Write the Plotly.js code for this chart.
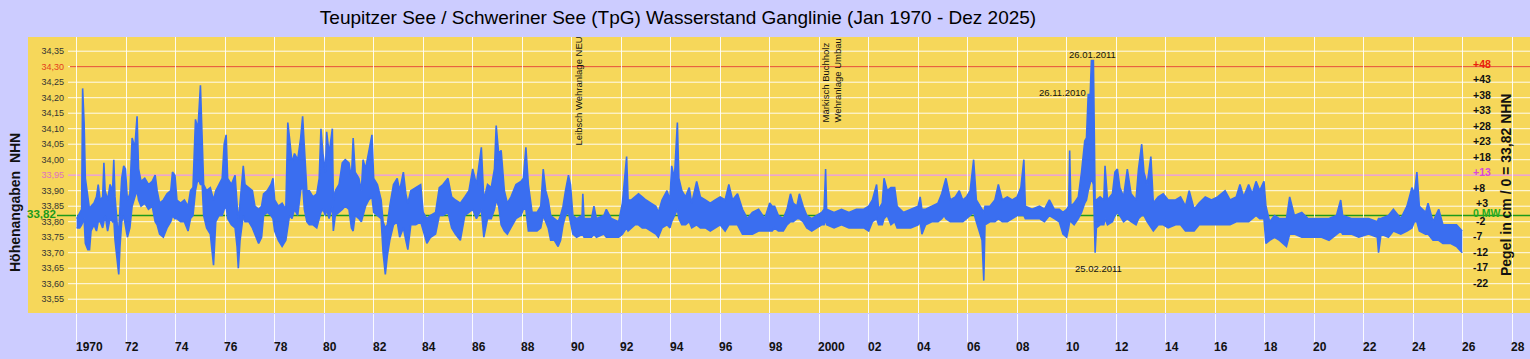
<!DOCTYPE html>
<html><head><meta charset="utf-8">
<script src="https://cdn.plot.ly/plotly-3.0.1.min.js"></script>
<style>html,body{margin:0;padding:0;background:#ccccff;}#chart{width:1530px;height:359px;}</style>
</head><body><div id="chart"></div>
<script>
// Water level envelope: [decimal year, high cm, low cm] relative to MW 33,82 NHN
const levels1970s = [
[1970.00,-1,-4],[1970.12,1,-4],[1970.20,2,-3],[1970.24,41,-2],[1970.30,30,-1],[1970.35,12,-9],[1970.45,5,-11],[1970.52,2,-11],[1970.58,3,-5],[1970.70,4,-3],[1970.80,6,-5],[1970.87,10,-2],[1970.95,5,-2],
[1971.05,6,-4],[1971.10,17,-2],[1971.15,8,0],[1971.25,5,-5],[1971.35,10,-1],[1971.45,8,-2],[1971.50,18,-1],[1971.55,6,-8],[1971.65,-4,-16],[1971.70,-5,-19],[1971.75,3,-10],[1971.82,12,-2],[1971.90,16,0],[1971.97,15,-3],
[1972.05,5,-7],[1972.15,7,-4],[1972.24,25,3],[1972.35,22,6],[1972.44,32,8],[1972.50,15,5],[1972.60,11,3],[1972.75,12,4],[1972.90,10,2],
[1973.05,11,3],[1973.17,13,-2],[1973.25,8,-3],[1973.35,4,-6],[1973.50,5,-7],[1973.65,7,-4],[1973.80,8,-2],[1973.87,14,0],[1973.97,13,-1],
[1974.05,5,-1],[1974.20,4,-2],[1974.35,5,-2],[1974.50,3,-5],[1974.60,8,-1],[1974.70,9,0],[1974.80,31,8],[1974.90,28,12],
[1975.00,42,10],[1975.07,25,10],[1975.13,10,0],[1975.25,8,-4],[1975.40,9,-6],[1975.53,5,-16],[1975.62,8,-2],[1975.75,10,0],[1975.88,12,0],[1975.96,23,2],
[1976.04,26,3],[1976.10,12,-1],[1976.25,10,-3],[1976.40,13,-4],[1976.48,2,-10],[1976.53,-2,-17],[1976.60,4,-8],[1976.73,16,0],[1976.80,10,-2],[1976.95,9,-2],
[1977.10,8,-4],[1977.20,3,-6],[1977.35,2,-9],[1977.47,3,-7],[1977.55,7,0],[1977.70,8,1],[1977.85,10,0],[1977.93,12,-1],
[1978.00,5,-5],[1978.15,3,-8],[1978.30,4,-10],[1978.45,2,-8],[1978.53,30,-3],[1978.60,25,0],[1978.70,17,-1],[1978.80,20,2],[1978.93,18,0],
[1979.05,25,8],[1979.13,32,10],[1979.20,22,2],[1979.30,8,-2],[1979.40,8,-3],[1979.55,6,-3],[1979.70,7,-4],[1979.80,12,-1],[1979.87,28,1],[1979.95,20,2]
];
const levels1980s = [
[1980.05,14,0],[1980.10,27,2],[1980.20,20,-1],[1980.33,28,3],[1980.37,5,-5],[1980.45,8,0],[1980.60,10,1],[1980.73,17,2],[1980.85,18,3],
[1981.00,17,2],[1981.10,12,-4],[1981.17,25,-5],[1981.25,14,0],[1981.40,12,-1],[1981.50,8,-2],[1981.57,18,0],[1981.67,15,3],[1981.80,20,5],[1981.93,26,6],
[1982.00,12,1],[1982.15,10,0],[1982.30,5,-1],[1982.38,-2,-12],[1982.47,-4,-19],[1982.55,-3,-13],[1982.65,3,-8],[1982.80,10,-3],[1982.95,12,-2],
[1983.05,8,-7],[1983.20,14,-4],[1983.30,7,-8],[1983.38,4,-11],[1983.50,8,-3],[1983.70,9,-3],[1983.90,10,-2],
[1984.00,1,-5],[1984.15,-1,-9],[1984.30,0,-7],[1984.50,1,-6],[1984.65,9,0],[1984.80,10,0],
[1985.00,12,1],[1985.15,6,-4],[1985.30,5,-6],[1985.50,4,-8],[1985.68,6,0],[1985.85,8,1],
[1986.00,15,2],[1986.15,10,-1],[1986.35,22,2],[1986.45,5,-7],[1986.60,10,-1],[1986.75,9,-1],[1986.88,15,2],[1986.95,29,5],
[1987.05,20,3],[1987.15,21,-3],[1987.28,8,-5],[1987.40,4,-6],[1987.55,6,-4],[1987.75,10,-1],[1987.95,11,0],
[1988.05,12,2],[1988.15,22,2],[1988.25,10,-5],[1988.40,1,-5],[1988.60,1,-5],[1988.75,3,-4],[1988.85,15,0],[1988.95,8,-2],
[1989.05,5,-4],[1989.15,0,-8],[1989.30,-1,-8],[1989.45,-2,-10],[1989.55,0,-8],[1989.65,3,-3],[1989.75,8,0],[1989.87,13,1],[1989.95,10,-2]
];
const levels1990s = [
[1990.05,0,-6],[1990.20,-1,-7],[1990.42,0,-6],[1990.45,7,-6],[1990.50,-1,-7],[1990.80,-1,-7],[1990.90,3,-6],
[1991.00,-1,-7],[1991.30,0,-6],[1991.40,2,-7],[1991.60,-1,-7],[1991.90,-2,-7],
[1992.05,4,-6],[1992.22,19,-4],[1992.28,5,-5],[1992.40,5,-4],[1992.55,6,-3],[1992.70,7,-3],[1992.85,6,-4],
[1993.00,5,-4],[1993.20,4,-5],[1993.40,3,-6],[1993.50,1,-7],[1993.65,5,-4],[1993.85,8,-3],[1993.97,5,-4],
[1994.04,16,-2],[1994.15,12,0],[1994.27,30,2],[1994.33,12,-1],[1994.45,8,-3],[1994.60,6,-3],[1994.75,9,-2],[1994.85,4,-4],
[1995.05,11,-3],[1995.20,6,-4],[1995.40,5,-4],[1995.60,4,-5],[1995.80,5,-4],
[1996.00,6,-3],[1996.20,5,-5],[1996.35,10,-3],[1996.50,5,-3],[1996.70,7,-3],[1996.90,2,-6],
[1997.10,-1,-6],[1997.30,1,-6],[1997.55,2,-5],[1997.80,-1,-5],
[1998.00,4,-5],[1998.10,3,-5],[1998.20,3,-4],[1998.35,0,-5],[1998.55,-1,-5],[1998.70,2,-3],[1998.84,7,-2],[1998.95,4,-2],
[1999.10,3,-1],[1999.20,7,-1],[1999.35,3,-2],[1999.50,0,-4],[1999.70,-1,-5],[1999.90,0,-4]
];
const levels2000s = [
[2000.10,1,-3],[2000.20,2,-3],[2000.26,15,-1],[2000.30,2,-3],[2000.60,1,-4],[2000.90,2,-3],
[2001.20,1,-4],[2001.50,2,-4],[2001.80,2,-4],
[2002.00,3,-5],[2002.15,5,-2],[2002.32,10,-1],[2002.40,2,-3],[2002.55,4,-3],[2002.62,12,-1],[2002.75,8,0],[2002.90,9,-3],
[2003.05,9,-2],[2003.15,3,-4],[2003.40,1,-4],[2003.70,2,-4],
[2004.00,3,-3],[2004.08,6,-2],[2004.15,2,-6],[2004.30,2,-3],[2004.55,3,-2],[2004.80,4,-2],[2004.95,7,-1],
[2005.05,10,0],[2005.12,12,-1],[2005.30,5,-2],[2005.50,6,-2],[2005.66,8,-2],[2005.80,5,-2],[2005.95,6,-1],
[2006.10,8,0],[2006.24,18,1],[2006.35,5,-2],[2006.58,2,-8],[2006.65,1,-21],[2006.70,3,-3],[2006.90,3,-2],
[2007.10,5,-2],[2007.24,10,-1],[2007.40,5,-2],[2007.60,6,-2],[2007.80,5,-1],
[2008.00,6,0],[2008.15,9,0],[2008.27,18,0],[2008.33,3,-1],[2008.60,2,-1],[2008.90,3,-1],
[2009.10,2,-2],[2009.30,5,0],[2009.50,2,-1],[2009.70,2,-2],[2009.85,1,-6]
];
const levels2010s = [
[2010.00,2,-7],[2010.08,3,-4],[2010.12,21,-2],[2010.17,3,-2],[2010.30,4,-3],[2010.47,6,-1],[2010.60,14,1],[2010.73,24,4],[2010.80,25,5],[2010.87,39,8],[2010.95,39,10],
[2011.00,50,12],[2011.08,50,10],[2011.11,35,0],[2011.15,4,-12],[2011.20,5,-4],[2011.35,6,-3],[2011.50,5,-3],[2011.55,16,-1],[2011.65,5,-3],[2011.85,7,-2],[2011.95,14,0],
[2012.05,15,1],[2012.15,9,0],[2012.30,6,-2],[2012.45,15,-1],[2012.60,7,-2],[2012.80,5,-3],[2012.90,15,-1],
[2013.03,23,0],[2013.12,14,0],[2013.25,10,-2],[2013.40,19,-4],[2013.50,4,-5],[2013.70,6,-3],[2013.90,7,-3],
[2014.10,5,-4],[2014.40,5,-3],[2014.60,6,-3],[2014.80,3,-5],[2014.95,8,-5],
[2015.15,2,-5],[2015.35,4,-3],[2015.60,6,-3],[2015.85,5,-3],
[2016.10,6,-3],[2016.40,8,-3],[2016.60,5,-3],[2016.85,6,-2],
[2017.00,10,-2],[2017.15,6,-2],[2017.35,10,-2],[2017.50,7,-1],[2017.65,11,0],[2017.80,8,-1],[2017.97,11,-1],
[2018.05,3,-9],[2018.20,-2,-8],[2018.40,0,-7],[2018.60,-1,-8],[2018.88,-1,-10],[2019.01,6,-6],
[2019.20,0,-6],[2019.50,1,-7],[2019.75,-1,-7]
];
const levels2020s = [
[2020.00,-1,-7],[2020.30,-1,-7],[2020.60,-1,-8],[2020.90,0,-6],[2021.07,5,-5],[2021.15,0,-6],[2021.50,-1,-6],[2021.80,-1,-7],
[2022.20,-1,-6],[2022.55,-2,-7],[2022.60,-1,-12],[2022.70,-1,-6],
[2023.00,0,-7],[2023.20,2,-5],[2023.50,-1,-6],[2023.75,3,-5],[2023.95,9,-4],
[2024.05,7,-2],[2024.15,14,-2],[2024.25,3,-5],[2024.50,1,-6],[2024.60,4,-6],[2024.80,-2,-8],
[2025.03,2,-8],[2025.20,-3,-9],[2025.50,-3,-9],[2025.75,-3,-10],[2025.98,-5,-12]
];

const meanWater = 33.82;
const yTickVals = [33.55,33.60,33.65,33.70,33.75,33.80,33.85,33.90,33.95,34.00,34.05,34.10,34.15,34.20,34.25,34.30,34.35];
const yTickText = ['33,55','33,60','33,65','33,70','33,75','33,80','33,85','33,90','33,95','34,00','34,05','34,10','34,15','34,20','34,25','34,30','34,35'];
const pegelValues = [34.30,34.25,34.20,34.15,34.10,34.05,34.00,33.95,33.90,33.85,33.82,33.80,33.75,33.70,33.65,33.60];
const pegelText = ['+48','+43','+38','+33','+28','+23','+18','+13','+8','+3','0 MW','-2','-7','-12','-17','-22'];
const xLabelYears = [1970,1972,1974,1976,1978,1980,1982,1984,1986,1988,1990,1992,1994,1996,1998,2000,2002,2004,2006,2008,2010,2012,2014,2016,2018,2020,2022,2024,2026,2028];
const xLabelText = ['1970','72','74','76','78','80','82','84','86','88','90','92','94','96','98','2000','02','04','06','08','10','12','14','16','18','20','22','24','26','28'];

const FONT = '"Liberation Sans", Arial, sans-serif';
const BLUE = '#3a6ef0', YELLOW = '#f6d75a', RED = '#e4401a', PINK = '#e88ccc', GREEN = '#1c9a1c', GRID = 'rgba(255,255,255,0.9)';
const L = 68, R = 1530, T = 37, B = 313;
const px2x = p => (p - L) / (R - L);
const py2y = p => (B - p) / (B - T);
function decToMs(d){ const y = Math.floor(d); const a = Date.UTC(y,0,1), b = Date.UTC(y+1,0,1); return a + (d - y) * (b - a); }

const all = [].concat(levels1970s, levels1980s, levels1990s, levels2000s, levels2010s, levels2020s);
const xs = all.map(r => decToMs(r[0]));
const hiY = all.map(r => meanWater + r[1] / 100);
const loY = all.map(r => meanWater + r[2] / 100);

const traces = [
  {x: xs, y: loY, type: 'scatter', mode: 'lines', line: {color: BLUE, width: 1.6}, hoverinfo: 'skip', showlegend: false},
  {x: xs, y: hiY, type: 'scatter', mode: 'lines', fill: 'tonexty', fillcolor: BLUE, line: {color: BLUE, width: 1.6}, hoverinfo: 'skip', showlegend: false}
];

const labelColor = {'34,30': '#e4401a', '33,95': '#e070c0'};
const tickText = yTickText.map(t => labelColor[t] ? '<span style="color:' + labelColor[t] + '">' + t + '</span>' : t);

const ann = [];
xLabelYears.forEach((yr, i) => ann.push({x: decToMs(yr), xref: 'x', y: py2y(347), yref: 'paper', xanchor: 'left', yanchor: 'middle', xshift: -3,
  text: '<b>' + xLabelText[i] + '</b>', showarrow: false, font: {family: FONT, size: 12, color: '#111'}}));
pegelValues.forEach((v, i) => {
  const t = pegelText[i];
  const col = t === '+48' ? '#e8200c' : t === '+13' ? '#d848d8' : t === '0 MW' ? '#22aa22' : '#111';
  const xp = (t === '+3' || t === '-2') ? 1474 : 1471;
  ann.push({x: px2x(xp), xref: 'paper', y: v, yref: 'y', xanchor: 'left', yanchor: 'middle', yshift: v >= meanWater ? 3 : 1,
    text: '<b>' + t + '</b>', showarrow: false, font: {family: FONT, size: 10.5, color: col}});
});
ann.push({x: px2x(58), xref: 'paper', y: py2y(214), yref: 'paper', xanchor: 'right', yanchor: 'middle', text: '<b>33,82</b>', showarrow: false, font: {family: FONT, size: 11.5, color: GREEN}});
ann.push({x: px2x(15), xref: 'paper', y: py2y(203), yref: 'paper', xanchor: 'center', yanchor: 'middle', textangle: -90, text: '<b>Höhenangaben\u00a0 NHN</b>', showarrow: false, font: {family: FONT, size: 14, color: '#111'}});
ann.push({x: px2x(1506), xref: 'paper', y: py2y(185), yref: 'paper', xanchor: 'center', yanchor: 'middle', textangle: -90, text: '<b>Pegel in cm / 0 = 33,82 NHN</b>', showarrow: false, font: {family: FONT, size: 14, color: '#111'}});
ann.push({x: px2x(578), xref: 'paper', y: py2y(91.5), yref: 'paper', xanchor: 'center', yanchor: 'middle', textangle: -90, text: 'Leibsch Wehranlage NEU', showarrow: false, font: {family: FONT, size: 9.5, color: '#111'}});
ann.push({x: px2x(830.5), xref: 'paper', y: py2y(81), yref: 'paper', xanchor: 'center', yanchor: 'middle', textangle: -90, align: 'left', text: 'Märkisch Buchholz<br>Wehranlage Umbau', showarrow: false, font: {family: FONT, size: 9.5, color: '#111'}});
ann.push({x: px2x(1092), xref: 'paper', y: py2y(54), yref: 'paper', xanchor: 'center', yanchor: 'middle', text: '26.01.2011', showarrow: false, font: {family: FONT, size: 9.5, color: '#111'}});
ann.push({x: px2x(1062), xref: 'paper', y: py2y(92), yref: 'paper', xanchor: 'center', yanchor: 'middle', text: '26.11.2010', showarrow: false, font: {family: FONT, size: 9.5, color: '#111'}});
ann.push({x: px2x(1098), xref: 'paper', y: py2y(268), yref: 'paper', xanchor: 'center', yanchor: 'middle', text: '25.02.2011', showarrow: false, font: {family: FONT, size: 9.5, color: '#111'}});

// background, horizontal grid (from the y tick values) and reference lines, all beneath the data
const shapes = [
  {type: 'rect', xref: 'paper', yref: 'paper', x0: px2x(28), x1: 1, y0: 0, y1: 1, fillcolor: YELLOW, line: {width: 0}, layer: 'below'}
];
yTickVals.forEach(v => shapes.push({type: 'line', xref: 'paper', yref: 'y', x0: 0, x1: 1, y0: v, y1: v, line: {color: GRID, width: 1}, layer: 'below'}));
shapes.push({type: 'line', xref: 'paper', yref: 'y', x0: px2x(70), x1: 1, y0: 34.30, y1: 34.30, line: {color: RED, width: 1}, layer: 'below'});
shapes.push({type: 'line', xref: 'paper', yref: 'y', x0: px2x(68), x1: 1, y0: 33.95, y1: 33.95, line: {color: PINK, width: 1.3}, layer: 'below'});
shapes.push({type: 'line', xref: 'paper', yref: 'y', x0: px2x(57), x1: 1, y0: meanWater, y1: meanWater, line: {color: GREEN, width: 1.6}, layer: 'below'});

const layout = {
  width: 1530, height: 359,
  margin: {l: L, r: 1530 - R, t: T, b: 359 - B, pad: 0},
  paper_bgcolor: '#ccccff', plot_bgcolor: YELLOW,
  font: {family: FONT, color: '#111'},
  title: {text: 'Teupitzer See / Schweriner See (TpG) Wasserstand Ganglinie (Jan 1970 - Dez 2025)', x: 678 / 1530, xref: 'container', xanchor: 'center',
    y: 1 - 17 / 359, yref: 'container', yanchor: 'middle', font: {family: FONT, size: 19, color: '#000'}},
  showlegend: false,
  hovermode: false,
  xaxis: {type: 'date', range: [decToMs(1969.6485), decToMs(2028.7192)], tick0: '1970-01-01', dtick: 'M24',
    showgrid: true, gridcolor: GRID, gridwidth: 1, zeroline: false, showline: false,
    ticks: 'outside', ticklen: 28, tickcolor: GRID, tickwidth: 1, showticklabels: false, fixedrange: true},
  yaxis: {range: [33.5055, 34.3958], tickmode: 'array', tickvals: yTickVals, ticktext: tickText,
    showgrid: false, zeroline: false, showline: false, ticks: '',
    ticklabelstandoff: 3, tickfont: {family: FONT, size: 9, color: '#333'}, fixedrange: true},
  shapes: shapes,
  annotations: ann
};

Plotly.newPlot('chart', traces, layout, {displayModeBar: false, staticPlot: true});
</script>
</body></html>
